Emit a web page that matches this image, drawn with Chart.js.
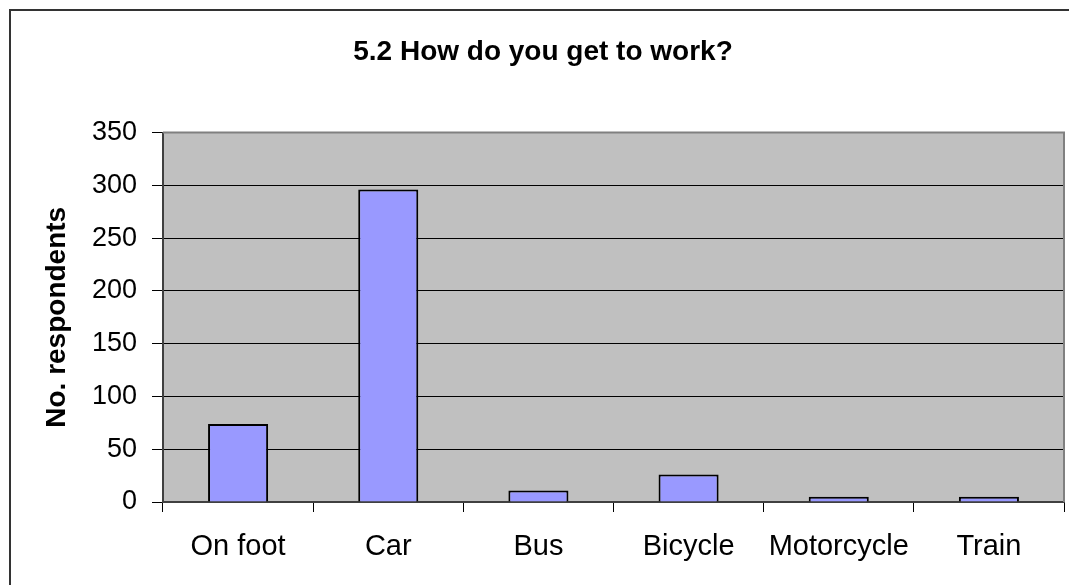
<!DOCTYPE html>
<html>
<head>
<meta charset="utf-8">
<script src="https://cdn.jsdelivr.net/npm/chart.js@4/dist/chart.umd.min.js"></script>
<style>
  html, body { margin: 0; padding: 0; background: #ffffff; }
  #wrap { width: 1069px; height: 585px; position: relative; }
</style>
</head>
<body>
<div id="wrap"><canvas id="c"></canvas></div>
<script>
const categories = ["On foot", "Car", "Bus", "Bicycle", "Motorcycle", "Train"];
const respondents = [74, 296, 11, 26, 5, 5];
const yTicks = [0, 50, 100, 150, 200, 250, 300, 350];
const chartTitle = "5.2 How do you get to work?";
const yTitle = "No. respondents";

const FONT = "'Liberation Sans', Arial, sans-serif";

const framePlugin = {
  id: 'frame',
  beforeDraw(chart) {
    const ctx = chart.ctx;
    const a = chart.chartArea;
    ctx.save();
    ctx.fillStyle = '#ffffff';
    ctx.fillRect(0, 0, chart.width, chart.height);
    ctx.strokeStyle = '#333333';
    ctx.lineWidth = 2;
    ctx.strokeRect(10, 10, chart.width + 50, chart.height + 50);
    ctx.fillStyle = '#C0C0C0';
    ctx.fillRect(a.left, a.top, a.right - a.left, a.bottom - a.top);
    ctx.restore();
  },
  afterDatasetsDraw(chart) {
    const ctx = chart.ctx;
    const a = chart.chartArea;
    ctx.save();
    ctx.strokeStyle = '#808080';
    ctx.lineWidth = 2;
    ctx.beginPath();
    ctx.moveTo(a.left, a.top);
    ctx.lineTo(a.right, a.top);
    ctx.lineTo(a.right, a.bottom);
    ctx.stroke();
    ctx.restore();
  }
};

new Chart(document.getElementById('c'), {
  type: 'bar',
  data: {
    labels: categories,
    datasets: [{
      data: respondents,
      backgroundColor: '#9999FF',
      borderColor: '#000000',
      borderWidth: 2,
      barPercentage: 0.4,
      categoryPercentage: 1.0
    }]
  },
  options: {
    responsive: true,
    maintainAspectRatio: false,
    animation: false,
    layout: { padding: { left: 22, right: 5, top: 0, bottom: 0 } },
    plugins: {
      legend: { display: false },
      tooltip: { enabled: false },
      title: {
        display: true,
        text: chartTitle,
        color: '#000000',
        font: { family: FONT, size: 28, weight: 'bold' },
        padding: { top: 35, bottom: 64 }
      }
    },
    scales: {
      x: {
        offset: true,
        grid: {
          offset: true,
          drawOnChartArea: false,
          drawTicks: true,
          tickLength: 10,
          color: '#000000',
          lineWidth: 1
        },
        border: { display: true, color: '#404040', width: 2 },
        ticks: {
          color: '#000000',
          font: { family: FONT, size: 29 },
          padding: 18,
          maxRotation: 0,
          autoSkip: false
        },
        afterFit(scale) { scale.height = 83; }
      },
      y: {
        min: 0,
        max: 350,
        afterBuildTicks(scale) { scale.ticks = yTicks.map(v => ({ value: v })); },
        grid: {
          color: (c) => (c.tick && c.tick.value === 350) ? '#808080' : '#000000',
          tickColor: '#000000',
          lineWidth: 1,
          tickLength: 11
        },
        border: { display: true, color: '#404040', width: 2 },
        ticks: {
          color: '#000000',
          font: { family: FONT, size: 27 },
          padding: 15
        },
        title: {
          display: true,
          text: yTitle,
          color: '#000000',
          font: { family: FONT, size: 28, weight: 'bold' },
          padding: { top: 18, bottom: 0 }
        },
        afterFit(scale) { scale.width = 141; }
      }
    }
  },
  plugins: [framePlugin]
});
</script>
</body>
</html>
